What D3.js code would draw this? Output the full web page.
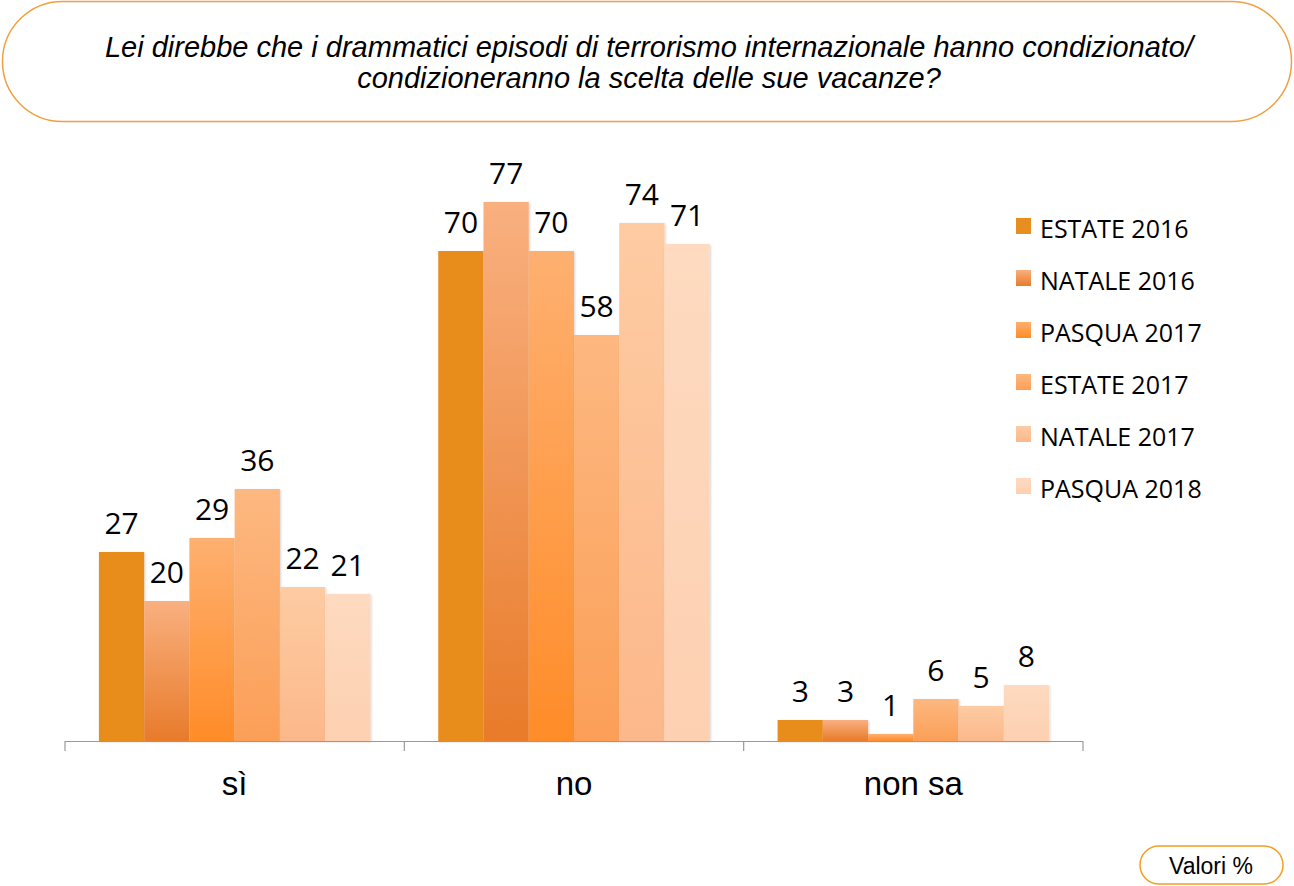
<!DOCTYPE html>
<html>
<head>
<meta charset="utf-8">
<script src="https://cdn.jsdelivr.net/npm/d3@7"></script>
<style>
  html, body { margin: 0; padding: 0; background: #fff; }
  svg { display: block; }
</style>
</head>
<body>
<svg id="chart" width="1294" height="886"></svg>
<script>
// ---- data ----
const categories = ["sì", "no", "non sa"];
const seriesNames = ["ESTATE 2016", "NATALE 2016", "PASQUA 2017", "ESTATE 2017", "NATALE 2017", "PASQUA 2018"];
const estate2016 = [27, 70, 3];
const natale2016 = [20, 77, 3];
const pasqua2017 = [29, 70, 1];
const estate2017 = [36, 58, 6];
const natale2017 = [22, 74, 5];
const pasqua2018 = [21, 71, 8];
const seriesValues = [estate2016, natale2016, pasqua2017, estate2017, natale2017, pasqua2018];
const titleLines = ["Lei direbbe che i drammatici episodi di terrorismo internazionale hanno condizionato/",
                    "condizioneranno la scelta delle sue vacanze?"];
const noteText = "Valori %";

// colour per series: [top, bottom] of gradient
const seriesColors = [
  ["#e88d1f", "#e88d1f"],
  ["#f9b07f", "#e87b2a"],
  ["#feb070", "#ff8c28"],
  ["#fdb880", "#fb9f58"],
  ["#fecba2", "#fcb88a"],
  ["#fedac0", "#fdd0b0"]
];

const svg = d3.select("#chart");
const defs = svg.append("defs");
seriesColors.forEach((c, i) => {
  const g = defs.append("linearGradient").attr("id", "grad" + i)
    .attr("x1", 0).attr("y1", 0).attr("x2", 0).attr("y2", 1);
  g.append("stop").attr("offset", "0%").attr("stop-color", c[0]);
  g.append("stop").attr("offset", "100%").attr("stop-color", c[1]);
});
const shadow = defs.append("filter").attr("id", "shadow").attr("x", "-10%").attr("y", "-10%").attr("width", "130%").attr("height", "130%");
shadow.append("feDropShadow").attr("dx", 1).attr("dy", 1).attr("stdDeviation", 1).attr("flood-color", "#000").attr("flood-opacity", 0.18);

// ---- title box ----
svg.append("rect").attr("x", 2.5).attr("y", 1.5).attr("width", 1289).attr("height", 120)
  .attr("rx", 60).attr("ry", 60).attr("fill", "#fff").attr("stroke", "#f0a040").attr("stroke-width", 1.5);
svg.append("text").attr("x", 649).attr("font-family", "Liberation Sans, Arial, sans-serif")
  .attr("font-size", 29).attr("font-style", "italic").attr("text-anchor", "middle").attr("fill", "#000")
  .selectAll("tspan").data(titleLines).join("tspan")
  .attr("x", 649).attr("y", (d, i) => 57 + i * 31).text(d => d);

// ---- scales ----
const x0 = d3.scaleBand().domain(categories).range([65, 1083]).paddingInner(0).paddingOuter(0);
const x1 = d3.scaleBand().domain(d3.range(seriesNames.length)).range([0, x0.bandwidth()]).paddingOuter(0.75).paddingInner(0);
const y = d3.scaleLinear().domain([0, 100]).range([741, 41]);

// ---- bars ----
const groups = svg.append("g").selectAll("g").data(categories).join("g")
  .attr("transform", d => `translate(${x0(d)},0)`);
groups.each(function (cat, ci) {
  const g = d3.select(this);
  const data = seriesValues.map((vals, si) => ({ si, v: vals[ci] }));
  g.selectAll("rect").data(data).join("rect")
    .attr("x", d => x1(d.si))
    .attr("width", x1.bandwidth())
    .attr("y", d => y(d.v))
    .attr("height", d => y(0) - y(d.v))
    .attr("fill", d => `url(#grad${d.si})`)
    .attr("filter", "url(#shadow)");
  g.selectAll("text").data(data).join("text")
    .attr("x", d => x1(d.si) + x1.bandwidth() / 2)
    .attr("y", d => y(d.v) - 18)
    .attr("text-anchor", "middle")
    .attr("font-family", "Open Sans, Lato, sans-serif")
    .attr("font-size", 30)
    .attr("fill", "#000")
    .text(d => d.v);
});

// ---- axis ----
const axis = svg.append("g").attr("transform", `translate(0,${y(0)})`);
axis.append("line").attr("x1", 65).attr("x2", 1083).attr("y1", 0.5).attr("y2", 0.5)
  .attr("stroke", "#999").attr("stroke-width", 1.2);
const tickPos = categories.map(c => x0(c)).concat([x0(categories[categories.length - 1]) + x0.bandwidth()]);
axis.selectAll("line.tick").data(tickPos).join("line").attr("class", "tick")
  .attr("x1", d => d).attr("x2", d => d).attr("y1", 0).attr("y2", 10)
  .attr("stroke", "#999").attr("stroke-width", 1.2);
axis.selectAll("text").data(categories).join("text")
  .attr("x", d => x0(d) + x0.bandwidth() / 2)
  .attr("y", 54)
  .attr("text-anchor", "middle")
  .attr("font-family", "Liberation Sans, Arial, sans-serif")
  .attr("font-size", 33)
  .attr("fill", "#000")
  .text(d => d);

// ---- legend ----
const legend = svg.append("g").selectAll("g").data(seriesNames).join("g")
  .attr("transform", (d, i) => `translate(1016,${218 + i * 52})`);
legend.append("rect").attr("width", 15).attr("height", 16)
  .attr("fill", (d, i) => `url(#grad${i})`);
legend.append("text").attr("x", 24).attr("y", 20)
  .attr("font-family", "Open Sans, Lato, sans-serif").attr("font-size", 25).attr("fill", "#000")
  .text(d => d);

// ---- note box ----
svg.append("rect").attr("x", 1140).attr("y", 846).attr("width", 143).attr("height", 38)
  .attr("rx", 19).attr("ry", 19).attr("fill", "#fff").attr("stroke", "#f0a020").attr("stroke-width", 1.5);
svg.append("text").attr("x", 1211).attr("y", 874).attr("text-anchor", "middle")
  .attr("font-family", "Liberation Sans, Arial, sans-serif").attr("font-size", 23).attr("fill", "#000")
  .text(noteText);
</script>
</body>
</html>
